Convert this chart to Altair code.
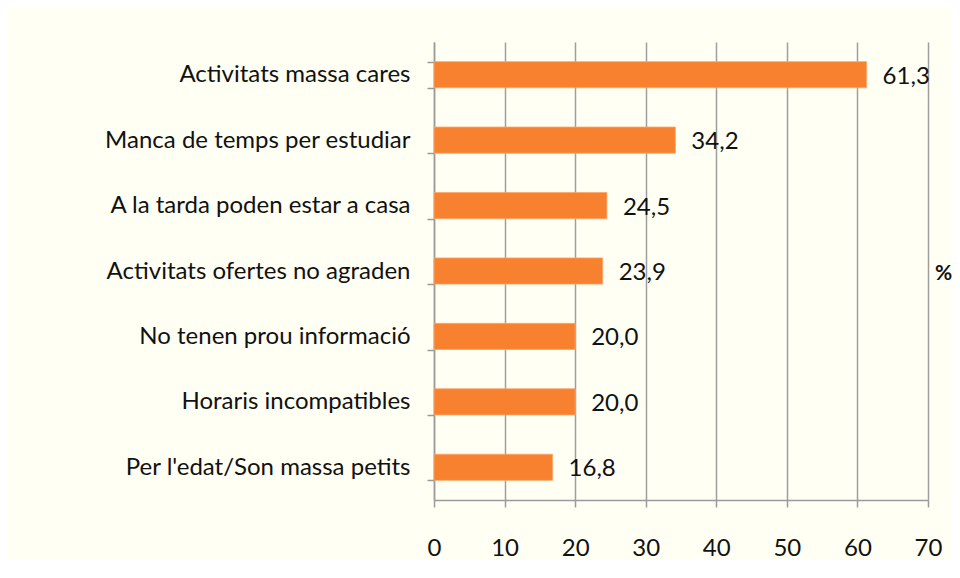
import altair as alt
import pandas as pd

categories = [
    "Activitats massa cares",
    "Manca de temps per estudiar",
    "A la tarda poden estar a casa",
    "Activitats ofertes no agraden",
    "No tenen prou informació",
    "Horaris incompatibles",
    "Per l'edat/Son massa  petits",
]
values = [61.3, 34.2, 24.5, 23.9, 20.0, 20.0, 16.8]
x_ticks = [0, 10, 20, 30, 40, 50, 60, 70]
unit_label = "%"

df = pd.DataFrame({"cat": categories, "val": values})

FONT = "Lato"
FS = 24
W, H = 494, 458

y_enc = alt.Y(
    "cat:N",
    sort=None,
    scale=alt.Scale(paddingInner=0.6, paddingOuter=0.3),
    axis=alt.Axis(
        title=None,
        tickBand="extent",
        tickSize=7,
        tickColor="#9a9a9a",
        tickWidth=1.5,
        domainColor="#9a9a9a",
        domainWidth=1.5,
        labelPadding=17,
        labelFont=FONT,
        labelFontSize=FS,
        labelColor="#111111",
        labelLimit=420,
        grid=False,
    ),
)

x_enc = alt.X(
    "val:Q",
    scale=alt.Scale(domain=[0, 70], nice=False),
    axis=alt.Axis(
        title=None,
        values=x_ticks,
        tickSize=7,
        tickColor="#9a9a9a",
        tickWidth=1.5,
        domainColor="#9a9a9a",
        domainWidth=1.5,
        grid=True,
        gridColor="#9e9e9e",
        gridWidth=1.5,
        labelPadding=29,
        labelFlush=False,
        labelFont=FONT,
        labelFontSize=FS,
        labelColor="#111111",
    ),
)

base = alt.Chart(df)

bars = base.mark_bar(color="#F7812F", stroke="#FBA66A", strokeWidth=0.8).encode(x=x_enc, y=y_enc)

labels = base.transform_calculate(
    lab="replace(format(datum.val, '.1f'), '.', ',')"
).mark_text(
    align="left", baseline="middle", dx=16, dy=2, font=FONT, fontSize=FS, color="#111111"
).encode(x="val:Q", y=alt.Y("cat:N", sort=None), text="lab:N")

pct = alt.Chart(pd.DataFrame({"t": [unit_label]})).mark_text(
    align="left", baseline="middle", font=FONT, fontSize=21, fontWeight="bold", color="#111111"
).encode(x=alt.value(W + 7), y=alt.value(H / 2 + 3), text="t:N")

chart = alt.layer(bars, labels, pct).properties(
    width=W,
    height=H,
    background="#FFFFF4",
    padding={"left": 426, "top": 34, "right": 24, "bottom": 60},
    autosize=alt.AutoSizeParams(type="none"),
).configure_view(stroke=None)

chart.save("out.html", embed_options={"renderer": "svg", "actions": False})
